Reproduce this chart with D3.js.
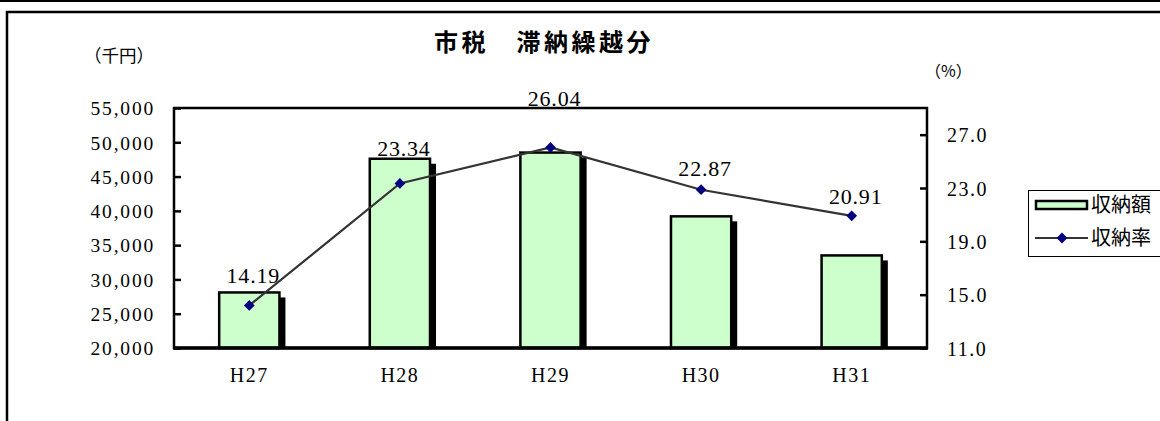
<!DOCTYPE html>
<html>
<head>
<meta charset="utf-8">
<script src="https://cdn.jsdelivr.net/npm/d3@7"></script>
<style>
  html, body { margin: 0; padding: 0; background: #fff; }
  svg { display: block; }
</style>
</head>
<body>
<svg id="chart" width="1160" height="421"></svg>
<script>
// ---- data ----
const categories = ["H27", "H28", "H29", "H30", "H31"];
const amounts = [28100, 47600, 48500, 39200, 33500];   // 収納額 (千円)
const rates = [14.19, 23.34, 26.04, 22.87, 20.91];      // 収納率 (%)
const leftTicks = [20000, 25000, 30000, 35000, 40000, 45000, 50000, 55000];
const rightTicks = [11, 15, 19, 23, 27];
const title = "市税　滞納繰越分";
const seriesNames = ["収納額", "収納率"];

// ---- layout ----
const W = 1160, H = 421;
const plot = { left: 174, right: 927, top: 108, bottom: 348 };
const labelLift = [9, 3, 41, 14, 12]; // manual label placement as in reference
const serif = "'Liberation Serif', 'Times New Roman', serif";
const jp = "'Noto Sans CJK JP', sans-serif";

const svg = d3.select("#chart");

// outer frame
svg.append("line").attr("x1", 0).attr("x2", W).attr("y1", 1).attr("y2", 1)
  .attr("stroke", "#000").attr("stroke-width", 2);
svg.append("rect").attr("x", 7).attr("y", 12).attr("width", 1300).attr("height", 600)
  .attr("fill", "none").attr("stroke", "#000").attr("stroke-width", 2.5);

const x = d3.scaleBand().domain(categories).range([plot.left, plot.right])
  .paddingInner(0.6).paddingOuter(0.3);
const y0 = d3.scaleLinear().domain([20000, 55000]).range([plot.bottom, plot.top]);
const y1 = d3.scaleLinear().domain([11, 29]).range([plot.bottom, plot.top]);

// clip for shadows
svg.append("defs").append("clipPath").attr("id", "plotclip")
  .append("rect").attr("x", plot.left).attr("y", plot.top)
  .attr("width", plot.right - plot.left + 20).attr("height", plot.bottom - plot.top);

// bar shadows
svg.append("g").attr("clip-path", "url(#plotclip)")
  .selectAll("rect").data(amounts).join("rect")
  .attr("x", (d, i) => x(categories[i]) + 6)
  .attr("y", d => y0(d) + 5)
  .attr("width", x.bandwidth())
  .attr("height", d => plot.bottom - y0(d))
  .attr("fill", "#000");

// bars
svg.append("g").selectAll("rect").data(amounts).join("rect")
  .attr("x", (d, i) => x(categories[i]))
  .attr("y", d => y0(d))
  .attr("width", x.bandwidth())
  .attr("height", d => plot.bottom - y0(d))
  .attr("fill", "#CCFFCC").attr("stroke", "#000").attr("stroke-width", 2.5);

// plot border
svg.append("rect").attr("x", plot.left).attr("y", plot.top)
  .attr("width", plot.right - plot.left).attr("height", plot.bottom - plot.top)
  .attr("fill", "none").attr("stroke", "#000").attr("stroke-width", 2.5);
svg.append("line").attr("x1", plot.left - 1).attr("x2", plot.right + 1)
  .attr("y1", plot.bottom).attr("y2", plot.bottom).attr("stroke", "#000").attr("stroke-width", 3.5);

// left axis
const axL = svg.append("g").attr("transform", `translate(${plot.left},0)`)
  .call(d3.axisLeft(y0).tickValues(leftTicks).tickSize(-7).tickPadding(19)
    .tickFormat(d3.format(",")));
axL.select(".domain").remove();
axL.selectAll(".tick line").attr("stroke", "#000").attr("stroke-width", 2.5);
axL.selectAll(".tick text").attr("font-family", serif).attr("font-size", 19.5)
  .attr("letter-spacing", 1.8).attr("fill", "#000").attr("dy", "0.35em");

// right axis
const axR = svg.append("g").attr("transform", `translate(${plot.right},0)`)
  .call(d3.axisRight(y1).tickValues(rightTicks).tickSize(-7).tickPadding(20)
    .tickFormat(d3.format(".1f")));
axR.select(".domain").remove();
axR.selectAll(".tick line").attr("stroke", "#000").attr("stroke-width", 2.5);
axR.selectAll(".tick text").attr("font-family", serif).attr("font-size", 20)
  .attr("letter-spacing", 1.5).attr("fill", "#000").attr("dy", "0.35em");

// bottom axis labels
const axB = svg.append("g").attr("transform", `translate(0,${plot.bottom})`)
  .call(d3.axisBottom(x).tickSize(0).tickPadding(20));
axB.select(".domain").remove();
axB.selectAll(".tick text").attr("font-family", serif).attr("font-size", 20)
  .attr("letter-spacing", 1.5).attr("fill", "#000");

// rate line
const cx = (d, i) => x(categories[i]) + x.bandwidth() / 2;
const line = d3.line().x(cx).y(d => y1(d));
svg.append("path").datum(rates).attr("d", line)
  .attr("fill", "none").attr("stroke", "#333").attr("stroke-width", 2.2);

const diamond = d3.symbol().type(d3.symbolSquare).size(58);
svg.append("g").selectAll("path").data(rates).join("path")
  .attr("d", diamond)
  .attr("transform", (d, i) => `translate(${cx(d, i)},${y1(d)}) rotate(45)`)
  .attr("fill", "#000080");

// data labels
svg.append("g").selectAll("text").data(rates).join("text")
  .attr("x", (d, i) => cx(d, i) + 4)
  .attr("y", (d, i) => Math.min(y1(d), y0(amounts[i])) - labelLift[i])
  .attr("text-anchor", "middle")
  .attr("font-family", serif).attr("font-size", 22).attr("letter-spacing", 0.8)
  .attr("fill", "#000")
  .text(d => d.toFixed(2));

// title & units
svg.append("text").attr("x", 544).attr("y", 51).attr("text-anchor", "middle")
  .attr("font-family", jp).attr("font-weight", "bold").attr("font-size", 24)
  .attr("letter-spacing", 3.5).attr("fill", "#000").text(title);
svg.append("text").attr("x", 84).attr("y", 62)
  .attr("font-family", jp).attr("font-size", 17.5)
  .attr("fill", "#000").text("（千円）");
svg.append("text").attr("x", 925).attr("y", 77)
  .attr("font-family", jp).attr("font-size", 16)
  .attr("fill", "#000").text("（%）");

// legend
const lg = svg.append("g");
lg.append("rect").attr("x", 1028.5).attr("y", 190.5).attr("width", 200).attr("height", 66)
  .attr("fill", "#fff").attr("stroke", "#000").attr("stroke-width", 1);
lg.append("rect").attr("x", 1036).attr("y", 201).attr("width", 51).attr("height", 8)
  .attr("fill", "#CCFFCC").attr("stroke", "#000").attr("stroke-width", 2.5);
lg.append("line").attr("x1", 1035).attr("x2", 1088).attr("y1", 238).attr("y2", 238)
  .attr("stroke", "#333").attr("stroke-width", 2.2);
lg.append("path").attr("d", diamond)
  .attr("transform", "translate(1062,238) rotate(45)").attr("fill", "#000080");
lg.selectAll("text.lt").data(seriesNames).join("text").attr("class", "lt")
  .attr("x", 1091).attr("y", (d, i) => 205 + i * 33).attr("dy", "0.35em")
  .attr("font-family", jp).attr("font-size", 20).attr("fill", "#000")
  .text(d => d);
</script>
</body>
</html>
